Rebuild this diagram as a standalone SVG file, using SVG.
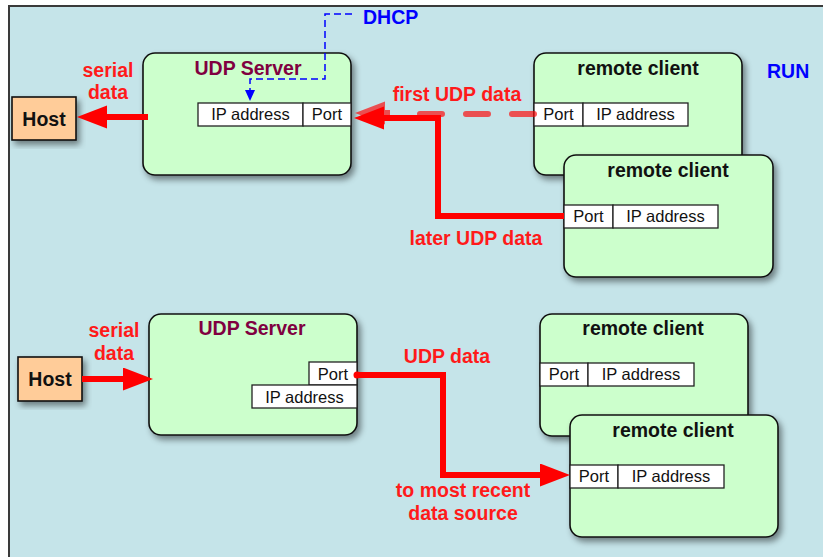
<svg xmlns="http://www.w3.org/2000/svg" width="823" height="557" viewBox="0 0 823 557">
<style>
.box{fill:#ccffcc;stroke:#111;stroke-width:1.6}
.host{fill:#ffcc99;stroke:#111;stroke-width:1.6}
.cell{fill:#fff;stroke:#222;stroke-width:1.3}
.t{font-family:"Liberation Sans",Arial,sans-serif}
.title{font-weight:bold;font-size:19.5px;text-anchor:middle;fill:#111}
.srv{fill:#800040}
.cellt{font-size:16.5px;text-anchor:middle;fill:#111}
.red{font-weight:bold;font-size:19.5px;fill:#ff1a1a;text-anchor:middle}
.blue{font-weight:bold;font-size:19.5px;fill:#0000ff}
.wire{fill:none;stroke:#ff0000;stroke-width:6}
</style>
<defs>
<filter id="sh" x="-10%" y="-10%" width="125%" height="130%">
<feDropShadow dx="3" dy="4" stdDeviation="3" flood-color="#000" flood-opacity="0.45"/>
</filter>
<marker id="ah" markerUnits="userSpaceOnUse" markerWidth="30" markerHeight="24" refX="0" refY="11.5" orient="auto">
<path d="M0,0 L30,11.5 L0,23 Z" fill="#ff0000"/>
</marker>
<marker id="ahb" markerUnits="userSpaceOnUse" markerWidth="12" markerHeight="12" refX="0" refY="5" orient="auto">
<path d="M0,0 L11,5 L0,10 Z" fill="#0000ff"/>
</marker>
</defs>

<rect x="9" y="6" width="830" height="560" fill="#c5e4e9" stroke="#3a3a3a" stroke-width="2"/>

<g id="server-top">
<rect class="box" x="143" y="53" width="208" height="122" rx="12" filter="url(#sh)"/>
<text class="t title srv" x="248" y="75">UDP Server</text>
<rect class="cell" x="198" y="103" width="105" height="23"/>
<rect class="cell" x="303" y="103" width="48" height="23"/>
<text class="t cellt" x="250.5" y="120">IP address</text>
<text class="t cellt" x="327" y="120">Port</text>
</g>

<g id="host-top">
<rect class="host" x="12" y="97" width="64" height="43" filter="url(#sh)"/>
<text class="t title" x="44" y="126">Host</text>
</g>

<g id="client-1">
<rect class="box" x="534" y="53" width="208" height="122" rx="12" filter="url(#sh)"/>
<text class="t title" x="638" y="75">remote client</text>
<rect class="cell" x="534" y="103" width="49" height="23"/>
<rect class="cell" x="583" y="103" width="105" height="23"/>
<text class="t cellt" x="558.5" y="120">Port</text>
<text class="t cellt" x="635.5" y="120">IP address</text>
</g>

<g id="client-2">
<rect class="box" x="564" y="155" width="209" height="122" rx="12" filter="url(#sh)"/>
<text class="t title" x="668" y="177">remote client</text>
<rect class="cell" x="564" y="205" width="49" height="23"/>
<rect class="cell" x="613" y="205" width="105" height="23"/>
<text class="t cellt" x="588.5" y="222">Port</text>
<text class="t cellt" x="665.5" y="222">IP address</text>
</g>

<g id="host-bottom">
<rect class="host" x="18" y="357" width="64" height="44" filter="url(#sh)"/>
<text class="t title" x="50" y="386">Host</text>
</g>

<g id="server-bottom">
<rect class="box" x="149" y="314" width="208" height="121" rx="12" filter="url(#sh)"/>
<text class="t title srv" x="252" y="335">UDP Server</text>
<rect class="cell" x="309" y="362" width="48" height="23"/>
<rect class="cell" x="252" y="385" width="105" height="23"/>
<text class="t cellt" x="333" y="380">Port</text>
<text class="t cellt" x="304.5" y="403">IP address</text>
</g>

<g id="client-3">
<rect class="box" x="540" y="314" width="208" height="122" rx="12" filter="url(#sh)"/>
<text class="t title" x="643" y="335">remote client</text>
<rect class="cell" x="540" y="363" width="48" height="23"/>
<rect class="cell" x="588" y="363" width="106" height="23"/>
<text class="t cellt" x="564" y="380">Port</text>
<text class="t cellt" x="641" y="380">IP address</text>
</g>

<g id="client-4">
<rect class="box" x="570" y="415" width="208" height="122" rx="12" filter="url(#sh)"/>
<text class="t title" x="673" y="437">remote client</text>
<rect class="cell" x="570" y="465" width="48" height="23"/>
<rect class="cell" x="618" y="465" width="106" height="23"/>
<text class="t cellt" x="594" y="482">Port</text>
<text class="t cellt" x="671" y="482">IP address</text>
</g>

<g id="connectors">
<path d="M352,14 H325 V79 H250 V90" fill="none" stroke="#0000ff" stroke-width="1.5" stroke-dasharray="7 4" marker-end="url(#ahb)"/>
<path d="M148,117 H107" class="wire" marker-end="url(#ah)"/>
<g opacity="0.65">
<path d="M534,114 H398" class="wire" stroke-linecap="round" stroke-dasharray="22 24"/>
<path d="M390,113 H385" class="wire" marker-end="url(#ah)"/>
</g>
<path d="M564,216 H438 V118 H384" class="wire" marker-end="url(#ah)"/>
<path d="M82,379 H123" class="wire" marker-end="url(#ah)"/>
<path d="M357,375 H443 V475 H540" class="wire" marker-end="url(#ah)"/>
<circle cx="357" cy="375" r="3.5" fill="#ff0000"/>
</g>

<g id="labels">
<text class="t blue" x="363" y="24">DHCP</text>
<text class="t blue" x="767" y="78">RUN</text>
<text class="t red" x="108" y="77">serial</text>
<text class="t red" x="108" y="99">data</text>
<text class="t red" x="457" y="101">first UDP data</text>
<text class="t red" x="476" y="245">later UDP data</text>
<text class="t red" x="114" y="337">serial</text>
<text class="t red" x="114" y="360">data</text>
<text class="t red" x="447" y="363">UDP data</text>
<text class="t red" x="463" y="497">to most recent</text>
<text class="t red" x="463" y="520">data source</text>
</g>
</svg>
